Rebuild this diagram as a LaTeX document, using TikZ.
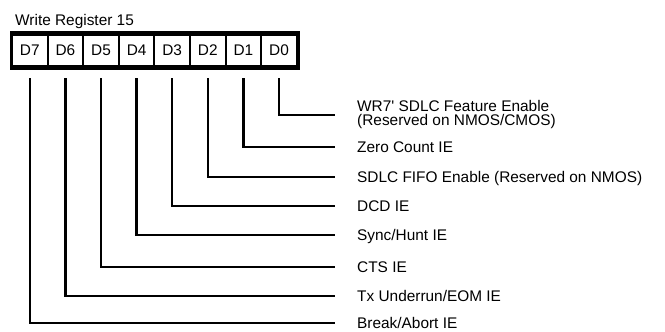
\documentclass[tikz,border=0pt]{standalone}
\usepackage{fontspec}
\setmainfont{Liberation Sans}

\begin{document}
\begin{tikzpicture}[x=1pt, y=-1pt,
    every node/.style={font=\fontsize{15.4}{14}\selectfont},
    cell/.style={rectangle, fill=white, inner sep=0pt, minimum width=33.6pt, minimum height=29pt},
    wire/.style={line width=2.4pt, shorten <=13pt, shorten >=22pt},
    desc/.style={anchor=west, inner sep=0pt, text height=11pt, text depth=0pt}]
    \useasboundingbox (0,0) rectangle (665,332);

    % Register frame
    \node[anchor=base west, inner sep=0pt] (title) at (15,25) {Write Register 15};
    \fill (10,31) rectangle (300,70);

    % Draw nodes
    \node[cell] (d7) at (29.8,50.5) {D7};
    \node[cell] (d6) at (65.4,50.5) {D6};
    \node[cell] (d5) at (101.0,50.5) {D5};
    \node[cell] (d4) at (136.6,50.5) {D4};
    \node[cell] (d3) at (172.2,50.5) {D3};
    \node[cell] (d2) at (207.8,50.5) {D2};
    \node[cell] (d1) at (243.4,50.5) {D1};
    \node[cell] (d0) at (279.0,50.5) {D0};

    % Labels
    \node[anchor=west, inner sep=0pt, align=left] (l0) at (357,115) {WR7\textquotesingle{} SDLC Feature Enable\\(Reserved on NMOS/CMOS)};
    \node[desc] (l1) at (357,147) {Zero Count IE};
    \node[desc] (l2) at (357,177) {SDLC FIFO Enable (Reserved on NMOS)};
    \node[desc] (l3) at (357,206) {DCD IE};
    \node[desc] (l4) at (357,235) {Sync/Hunt IE};
    \node[desc] (l5) at (357,267) {CTS IE};
    \node[desc] (l6) at (357,296) {Tx Underrun/EOM IE};
    \node[desc] (l7) at (357,323) {Break/Abort IE};

    % Draw connections
    \draw[wire] (d0.south) |- (l0.west);
    \draw[wire] (d1.south) |- (l1.west);
    \draw[wire] (d2.south) |- (l2.west);
    \draw[wire] (d3.south) |- (l3.west);
    \draw[wire] (d4.south) |- (l4.west);
    \draw[wire] (d5.south) |- (l5.west);
    \draw[wire] (d6.south) |- (l6.west);
    \draw[wire] (d7.south) |- (l7.west);
\end{tikzpicture}
\end{document}
